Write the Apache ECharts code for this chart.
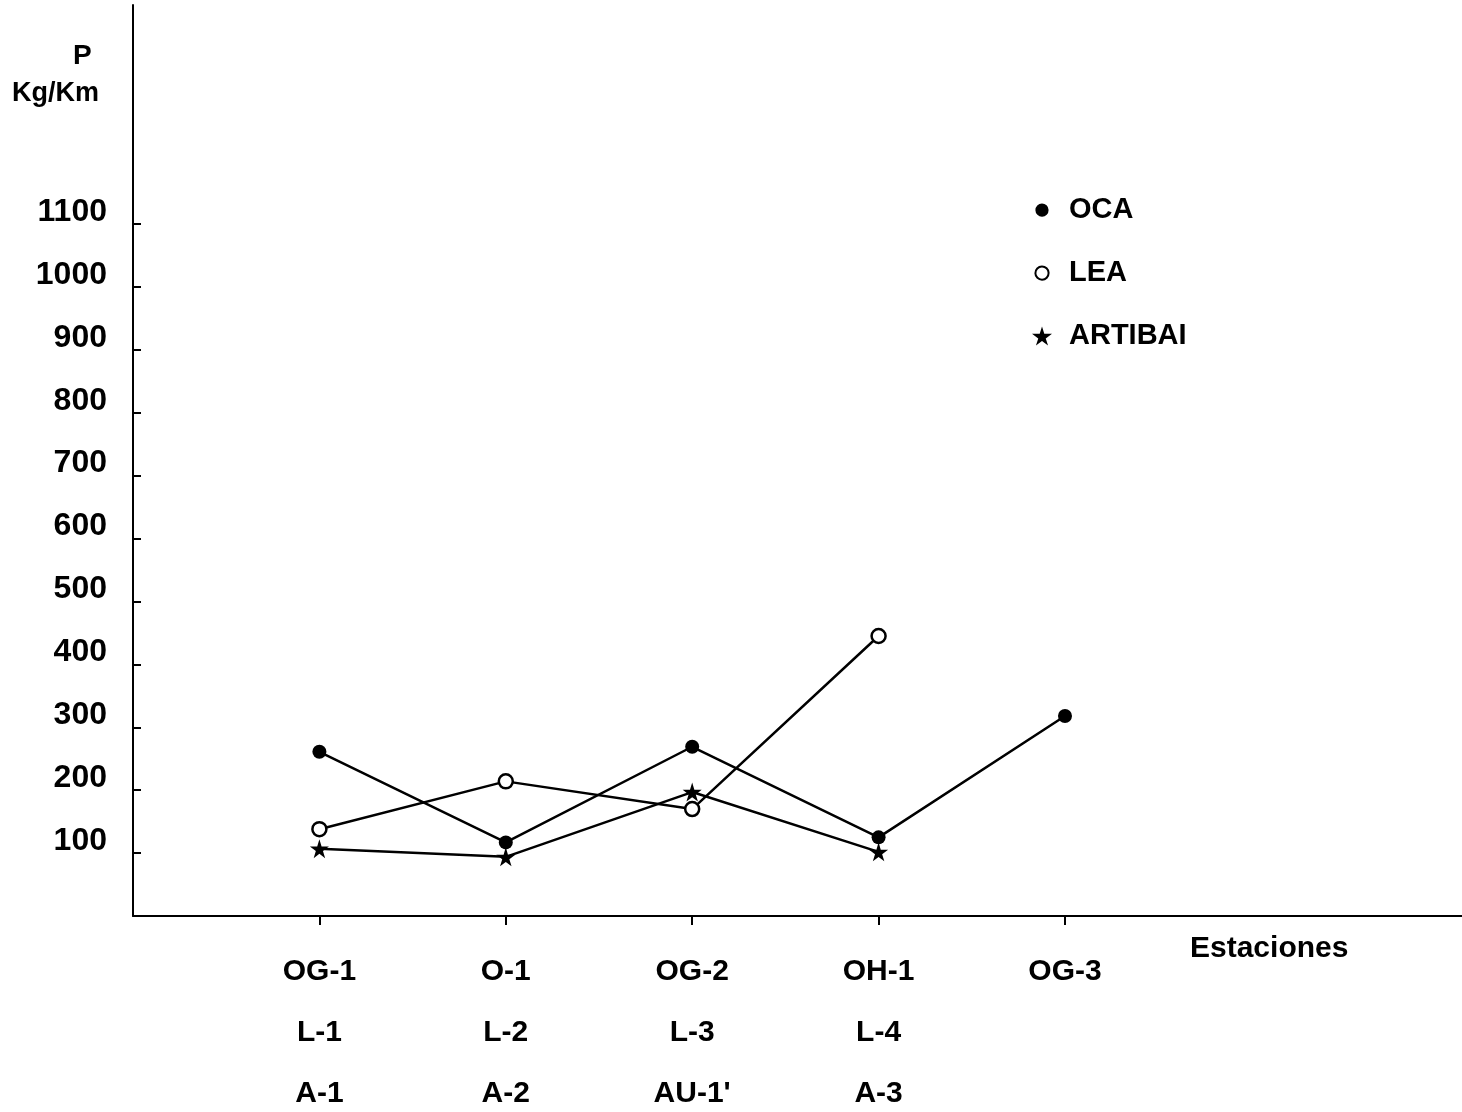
<!DOCTYPE html>
<html>
<head>
<meta charset="utf-8">
<script src="https://cdn.jsdelivr.net/npm/echarts@6/dist/echarts.min.js"></script>
<style>
html,body{margin:0;padding:0;background:#fff;}
#chart{width:1462px;height:1112px;}
</style>
</head>
<body>
<div id="chart"></div>
<script>
// Station labels (three rows under each tick)
const stationsOCA = ['OG-1', 'O-1', 'OG-2', 'OH-1', 'OG-3'];
const stationsLEA = ['L-1', 'L-2', 'L-3', 'L-4'];
const stationsART = ['A-1', 'A-2', "AU-1'", 'A-3'];
// Station positions along the axis
const stationPos = [1, 2, 3, 4, 5];
// P (Kg/Km) values
const ocaValues = [261, 117, 269, 125, 318];
const leaValues = [138, 214, 170, 445];
const artibaiValues = [107, 94, 197, 102];
// Y tick labels
const yTicks = [100, 200, 300, 400, 500, 600, 700, 800, 900, 1000, 1100];

const FONT = '"Liberation Sans", Arial, Helvetica, sans-serif';
const STAR = 'path://M50,0 L61,35 L98,35 L68,57 L79,91 L50,70 L21,91 L32,57 L2,35 L39,35 Z';
const SMALL_CIRCLE = 'path://M0,0 M100,100 M83,50 A33,33 0 1,1 82.99,49.5 Z';

function pairs(vals) { return vals.map((v, i) => [stationPos[i], v]); }

function xLabel(value) {
  const i = stationPos.indexOf(value);
  const rows = [stationsOCA[i], stationsLEA[i], stationsART[i]].filter(s => s !== undefined);
  return rows.join('\n');
}

const chart = echarts.init(document.getElementById('chart'), null, {renderer: 'canvas'});
const XMAX = 7.13, YMAX = 1448;
const option = {
  animation: false,
  backgroundColor: '#fff',
  grid: {left: 133, right: 0, top: 5, bottom: 196, containLabel: false, outerBoundsMode: 'none'},
  xAxis: {
    type: 'value', min: 0, max: XMAX, position: 'bottom',
    splitLine: {show: false},
    axisLine: {show: true, onZero: false, lineStyle: {color: '#000', width: 2}},
    axisTick: {show: true, customValues: stationPos, length: 9, lineStyle: {color: '#000', width: 2}},
    axisLabel: {
      show: true, customValues: stationPos, formatter: xLabel,
      color: '#000', fontFamily: FONT, fontWeight: 'bold', fontSize: 30,
      lineHeight: 61, margin: 25, align: 'center', verticalAlign: 'top'
    }
  },
  yAxis: {
    type: 'value', min: 0, max: YMAX, position: 'left',
    splitLine: {show: false},
    axisLine: {show: true, onZero: false, lineStyle: {color: '#000', width: 2}},
    axisTick: {show: true, inside: true, customValues: yTicks, length: 8, lineStyle: {color: '#000', width: 2}},
    axisLabel: {
      show: true, customValues: yTicks, formatter: v => String(v),
      color: '#000', fontFamily: FONT, fontWeight: 'bold', fontSize: 32,
      margin: 26, verticalAlign: 'bottom', lineHeight: 24
    }
  },
  legend: {
    orient: 'vertical', left: 1026, top: 190, itemGap: 33,
    itemWidth: 20, itemHeight: 20,
    textStyle: {color: '#000', fontFamily: FONT, fontWeight: 'bold', fontSize: 29, lineHeight: 30, padding: [0, 0, 0, 12]},
    data: [
      {name: 'OCA', icon: SMALL_CIRCLE, itemStyle: {color: '#000', borderWidth: 0}},
      {name: 'LEA', icon: SMALL_CIRCLE, itemStyle: {color: '#fff', borderColor: '#000', borderWidth: 2}},
      {name: 'ARTIBAI', icon: STAR, itemStyle: {color: '#000', borderWidth: 0}}
    ]
  },
  series: [{
    name: 'OCA', type: 'line', data: pairs(ocaValues),
    symbol: 'circle', symbolSize: 14,
    itemStyle: {color: '#000'},
    lineStyle: {color: '#000', width: 2.5}
  }, {
    name: 'LEA', type: 'line', data: pairs(leaValues),
    symbol: 'circle', symbolSize: 14,
    itemStyle: {color: '#fff', borderColor: '#000', borderWidth: 2.5},
    lineStyle: {color: '#000', width: 2.5}
  }, {
    name: 'ARTIBAI', type: 'line', data: pairs(artibaiValues),
    symbol: STAR, symbolSize: 19,
    itemStyle: {color: '#000'},
    lineStyle: {color: '#000', width: 2.5}
  }],
  graphic: [
    {type: 'text', left: 73, top: 42, style: {text: 'P', fill: '#000', font: 'bold 28px ' + FONT}},
    {type: 'text', left: 12, top: 80, style: {text: 'Kg/Km', fill: '#000', font: 'bold 27px ' + FONT}},
    {type: 'text', left: 1190, top: 934, style: {text: 'Estaciones', fill: '#000', font: 'bold 30px "Liberation Sans Narrow", ' + FONT}}
  ]
};
chart.setOption(option);
</script>
</body>
</html>
